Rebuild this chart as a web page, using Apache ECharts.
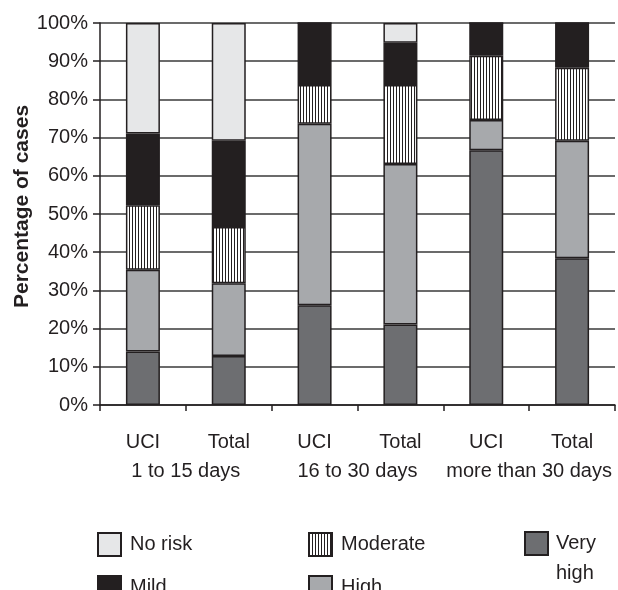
<!DOCTYPE html>
<html>
<head>
<meta charset="utf-8">
<script src="https://cdn.jsdelivr.net/npm/echarts@6/dist/echarts.min.js"></script>
<style>html,body{margin:0;padding:0;background:#fff}#c{width:618px;height:590px}</style>
</head>
<body>
<div id="c"></div>
<script>
var categories = ['UCI', 'Total', 'UCI', 'Total', 'UCI', 'Total'];
var groups = ['1 to 15 days', '16 to 30 days', 'more than 30 days'];
var yTicks = [0, 10, 20, 30, 40, 50, 60, 70, 80, 90, 100];
var veryHigh = [14.0, 12.8, 26.1, 21.1, 66.7, 38.4];
var high = [21.4, 19.1, 47.5, 42.0, 7.9, 30.8];
var moderate = [16.9, 14.7, 10.2, 20.7, 16.8, 19.1];
var mild = [18.8, 22.6, 16.2, 11.0, 8.6, 11.7];
var noRisk = [28.9, 30.8, 0, 5.2, 0, 0];

var ink = '#231f20';
var font = 'Liberation Sans, Arial, sans-serif';

var pc = document.createElement('canvas');
pc.width = 3; pc.height = 4;
var pctx = pc.getContext('2d');
pctx.fillStyle = '#ffffff'; pctx.fillRect(0, 0, 3, 4);
pctx.fillStyle = ink; pctx.fillRect(0, 0, 1, 4);
var stripe = { image: pc, repeat: 'repeat' };

function bar(name, data, color) {
  return {
    name: name, type: 'bar', stack: 'all', data: data, barWidth: 34,
    itemStyle: { color: color, borderColor: ink, borderWidth: 1.5 },
    emphasis: { disabled: true }
  };
}

var legendBase = {
  orient: 'vertical', padding: 0, itemWidth: 23, itemHeight: 23, itemGap: 18,
  icon: 'rect', selectedMode: false, height: 150,
  textStyle: { fontFamily: font, fontSize: 20, color: ink, padding: [0, 0, 0, 4] }
};

var chart = echarts.init(document.getElementById('c'), null, { renderer: 'canvas' });
chart.setOption({
  animation: false,
  backgroundColor: '#fff',
  grid: { left: 100, right: 3, top: 23, bottom: 185, containLabel: false, outerBoundsMode: 'none' },
  legend: [
    Object.assign({}, legendBase, { left: 97, top: 532, data: ['No risk', 'Mild'] }),
    Object.assign({}, legendBase, { left: 308, top: 532, data: ['Moderate', 'High'] }),
    Object.assign({}, legendBase, {
      left: 524, top: 498.5, data: ['Very high'],
      formatter: function () { return ' \nVery\nhigh'; },
      textStyle: { fontFamily: font, fontSize: 20, color: ink, lineHeight: 30, padding: [0, 0, 0, 3] }
    })
  ],
  xAxis: [
    {
      type: 'category', data: categories, position: 'bottom',
      axisLine: { lineStyle: { color: ink, width: 1.5 } },
      axisTick: { show: true, length: 6, lineStyle: { color: ink, width: 1.5 } },
      axisLabel: { interval: 0, margin: 27, fontFamily: font, fontSize: 20, color: ink }
    },
    {
      type: 'category', data: groups, position: 'bottom', offset: 29,
      axisLine: { show: false }, axisTick: { show: false },
      axisLabel: { interval: 0, margin: 27, fontFamily: font, fontSize: 20, color: ink }
    }
  ],
  yAxis: {
    type: 'value', min: yTicks[0], max: yTicks[yTicks.length - 1], interval: 10,
    name: 'Percentage of cases', nameLocation: 'middle', nameGap: 67, nameMoveOverlap: false,
    nameTextStyle: { fontFamily: font, fontSize: 21, fontWeight: 'bold', color: ink, padding: [0, 0, 0, 15] },
    axisLine: { show: true, lineStyle: { color: ink, width: 1.5 } },
    axisTick: { show: true, length: 7, lineStyle: { color: ink, width: 1.5 } },
    axisLabel: { formatter: '{value}%', margin: 12, fontFamily: font, fontSize: 20, color: ink },
    splitLine: { show: true, lineStyle: { color: '#3a3a3a', width: 1.5 } }
  },
  series: [
    bar('Very high', veryHigh, '#6d6e71'),
    bar('High', high, '#a7a9ac'),
    bar('Moderate', moderate, stripe),
    bar('Mild', mild, ink),
    bar('No risk', noRisk, '#e6e7e8')
  ]
});
</script>
</body>
</html>
